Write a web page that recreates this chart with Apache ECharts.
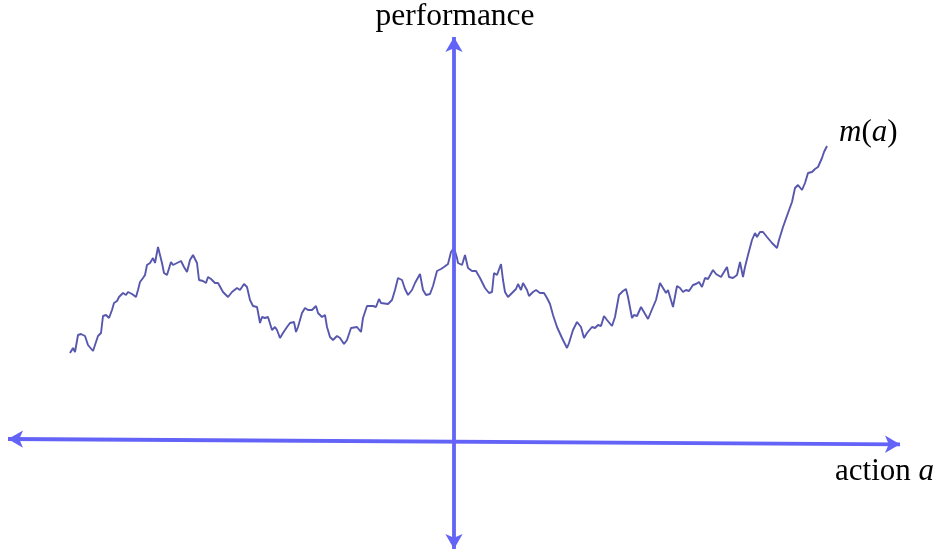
<!DOCTYPE html>
<html>
<head>
<meta charset="utf-8">
<script src="https://cdn.jsdelivr.net/npm/echarts@6/dist/echarts.min.js"></script>
<style>
  html, body { margin: 0; padding: 0; background: #fff; }
  #main { width: 940px; height: 554px; }
</style>
</head>
<body>
<div id="main"></div>
<script>
// action a (horizontal) and performance m(a) (vertical)
var action = [
  -38.5, -38.2, -38.0, -37.7, -37.4, -37.0, -36.7, -36.5, -36.2, -36.0,
  -35.7, -35.4, -35.2, -34.9, -34.6, -34.3, -34.1, -33.8, -33.6, -33.4,
  -33.2, -32.9, -32.7, -32.3, -31.9, -31.7, -31.5, -31.2, -31.0, -30.8,
  -30.5, -30.2, -30.0, -29.7, -29.3, -29.1, -28.8, -28.4, -28.2, -27.8,
  -27.4, -27.1, -26.8, -26.5, -26.2, -25.8, -25.6, -25.5, -25.2, -24.9,
  -24.7, -24.4, -24.2, -24.0, -23.7, -23.2, -22.7, -22.3, -21.8, -21.5,
  -21.1, -20.8, -20.5, -20.2, -19.8, -19.7, -19.5, -19.3, -19.0, -18.7,
  -18.3, -18.0, -17.8, -17.5, -17.2, -16.8, -16.5, -16.1, -15.9, -15.7,
  -15.3, -15.0, -14.7, -14.3, -13.9, -13.7, -13.3, -13.0, -12.8, -12.5,
  -12.2, -11.8, -11.5, -11.1, -10.8, -10.4, -10.2, -9.8, -9.4, -9.2,
  -8.8, -8.6, -8.2, -7.9, -7.6, -7.4, -7.2, -6.7, -6.3, -6.0,
  -5.7, -5.3, -5.0, -4.7, -4.3, -4.0, -3.8, -3.5, -3.2, -2.9,
  -2.5, -2.2, -1.8, -1.4, -1.1, -0.7, -0.4, -0.1, 0.2, 0.3,
  0.7, 1.0, 1.3, 1.7, 2.1, 2.5, 3.0, 3.4, 3.7, 3.9,
  4.2, 4.4, 4.6, 4.8, 5.0, 5.3, 5.7, 6.1, 6.3, 6.6,
  6.8, 7.2, 7.4, 7.8, 8.1, 8.5, 8.9, 9.2, 9.5, 9.8,
  10.2, 10.7, 11.2, 11.4, 11.8, 12.2, 12.6, 12.9, 13.2, 13.7,
  14.0, 14.3, 14.6, 14.9, 15.2, 15.7, 16.0, 16.4, 16.8, 17.1,
  17.3, 17.7, 17.9, 18.2, 18.6, 18.8, 19.3, 19.8, 20.1, 20.5,
  20.8, 21.1, 21.3, 21.8, 22.2, 22.5, 22.8, 23.1, 23.4, 23.8,
  24.1, 24.4, 24.7, 25.0, 25.3, 25.8, 26.1, 26.6, 26.9, 27.2,
  27.4, 27.8, 28.2, 28.5, 28.8, 29.0, 29.3, 29.7, 30.0, 30.2,
  30.5, 30.8, 31.2, 31.7, 32.2, 32.4, 32.8, 33.3, 33.7, 34.0,
  34.3, 34.7, 35.0, 35.3, 35.7, 36.0, 36.3, 36.7, 36.9, 37.2
];
var performance = [
  8.8, 9.3, 8.9, 10.6, 10.7, 10.5, 9.6, 9.4, 9.0, 9.6,
  10.5, 10.8, 12.5, 12.6, 12.3, 13.1, 13.8, 14.0, 14.4, 14.2,
  14.8, 14.6, 14.9, 14.7, 14.4, 15.1, 15.9, 16.3, 16.6, 17.6,
  17.8, 18.3, 17.8, 19.4, 17.8, 16.8, 16.6, 17.9, 17.6, 17.8,
  18.0, 17.4, 16.9, 18.1, 18.6, 17.8, 16.1, 15.9, 16.0, 15.8,
  16.4, 16.2, 16.4, 15.8, 15.8, 14.9, 14.4, 14.9, 15.3, 15.1,
  15.7, 15.4, 14.1, 13.5, 13.4, 12.9, 11.8, 12.4, 12.3, 12.4,
  11.1, 11.4, 11.1, 10.3, 10.8, 11.4, 11.8, 11.9, 10.9, 11.4,
  12.8, 13.3, 13.1, 13.1, 13.5, 12.8, 12.4, 12.6, 11.4, 10.4,
  10.1, 10.5, 10.3, 9.7, 10.1, 11.3, 11.3, 11.4, 10.9, 12.3,
  13.5, 13.3, 13.5, 13.4, 14.2, 13.8, 14.0, 13.7, 14.1, 15.1,
  16.3, 16.1, 15.2, 14.6, 15.1, 15.8, 15.8, 16.7, 15.1, 14.6,
  14.7, 15.5, 17.0, 17.2, 17.4, 17.7, 18.9, 19.3, 18.3, 17.8,
  17.6, 18.6, 17.3, 17.0, 17.0, 16.3, 15.3, 14.8, 14.9, 16.8,
  16.6, 16.4, 17.7, 16.1, 14.9, 14.4, 14.8, 15.2, 15.7, 15.1,
  15.8, 15.1, 14.5, 14.9, 15.1, 14.8, 14.8, 14.3, 13.7, 12.6,
  11.4, 10.3, 9.3, 9.8, 11.1, 11.9, 11.4, 10.3, 10.8, 11.4,
  11.3, 11.6, 11.5, 12.5, 12.1, 11.5, 12.4, 14.6, 15.0, 15.2,
  14.4, 12.3, 12.6, 12.5, 13.4, 13.3, 12.2, 13.4, 14.1, 15.8,
  15.3, 14.8, 15.1, 13.4, 15.5, 15.3, 14.9, 15.1, 15.0, 15.6,
  15.7, 15.9, 15.4, 16.3, 16.2, 17.1, 16.7, 16.4, 16.9, 17.4,
  16.4, 16.3, 16.6, 17.9, 16.4, 17.4, 18.6, 20.1, 20.8, 20.4,
  20.9, 20.9, 20.4, 19.8, 19.3, 20.1, 21.4, 22.8, 23.9, 25.3,
  25.6, 25.1, 25.8, 26.8, 26.9, 27.2, 27.4, 28.3, 28.9, 29.5
];
// ends of the two drawn axes (the horizontal one is slightly tilted)
var hAxisEnds = [[-44.7, 0.2], [44.5, -0.33]];
var vAxisEnds = [[-0.1, -10.8], [-0.1, 40.4]];

var points = [];
for (var i = 0; i < action.length; i++) {
  points.push([action[i], performance[i]]);
}

var serif = "'Liberation Serif', 'DejaVu Serif', serif";
var axisColor = '#6363f7';

var chart = echarts.init(document.getElementById('main'));
var option = {
  animation: false,
  backgroundColor: '#ffffff',
  grid: { left: 0, right: 0, top: 0, bottom: 0 },
  xAxis: {
    type: 'value', min: -45.5, max: 48.5,
    show: false
  },
  yAxis: {
    type: 'value', min: -11.3, max: 44.1,
    show: false
  },
  series: [
    {
      name: 'axes',
      type: 'line',
      data: [],
      silent: true,
      markLine: {
        silent: true,
        symbol: ['arrow', 'arrow'],
        symbolSize: [13, 15],
        label: { show: false },
        lineStyle: { color: axisColor, width: 3.8, type: 'solid' },
        data: [
          [{ coord: hAxisEnds[0] }, { coord: hAxisEnds[1] }],
          [{ coord: vAxisEnds[0] }, { coord: vAxisEnds[1] }]
        ]
      }
    },
    {
      name: 'm(a)',
      type: 'line',
      data: points,
      showSymbol: false,
      symbol: 'none',
      lineStyle: { color: '#5757ad', width: 1.9 },
      z: 3,
      endLabel: {
        show: true,
        formatter: '{i|m}({i|a})',
        offset: [4, -13],
        fontFamily: serif,
        fontSize: 31,
        color: '#000',
        rich: {
          i: { fontFamily: serif, fontSize: 31, fontStyle: 'italic', color: '#000' }
        }
      }
    }
  ],
  graphic: [
    {
      type: 'text',
      x: 455, y: 17,
      style: {
        text: 'performance',
        font: '31.5px ' + serif,
        fill: '#000',
        textAlign: 'center',
        textVerticalAlign: 'middle'
      }
    },
    {
      type: 'text',
      x: 835, y: 472,
      style: {
        text: 'action {i|a}',
        font: '31px ' + serif,
        fill: '#000',
        textAlign: 'left',
        textVerticalAlign: 'middle',
        rich: {
          i: { font: 'italic 31px ' + serif, fill: '#000' }
        }
      }
    }
  ]
};
chart.setOption(option);
</script>
</body>
</html>
